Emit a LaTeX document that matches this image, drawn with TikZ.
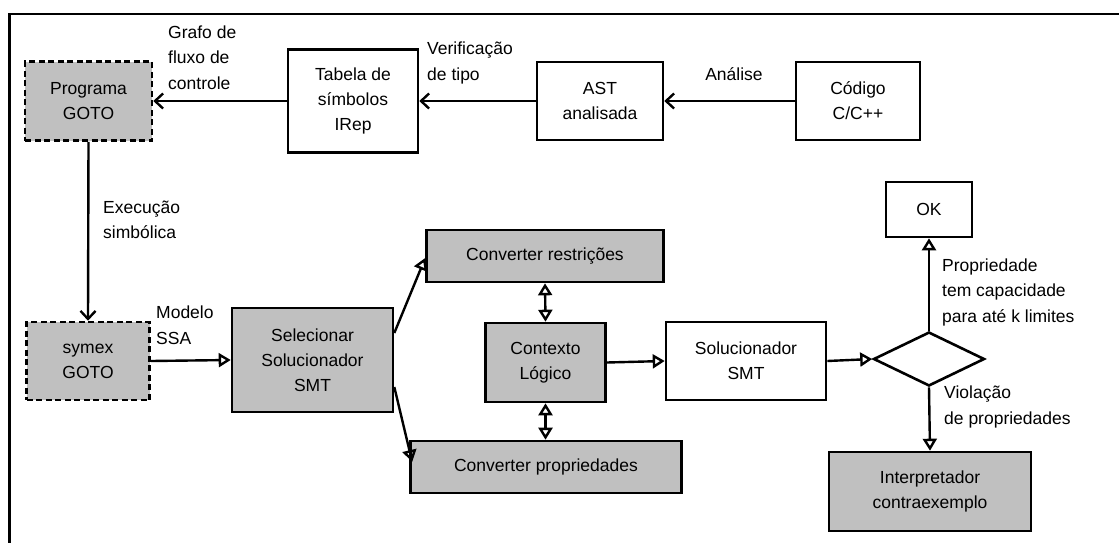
\documentclass[tikz,border=0pt]{standalone}
\usepackage{fontspec}
\setmainfont{Liberation Sans}
\usetikzlibrary{arrows.meta,shapes.geometric,calc}
\definecolor{boxgray}{HTML}{C0C0C0}
\tikzset{
  base/.style={draw=black, line width=2.6pt, inner sep=0pt, align=center, font=\fontsize{17.5}{25}\selectfont},
  wbox/.style={base, fill=white},
  gbox/.style={base, fill=boxgray},
  dbox/.style={gbox, dash pattern=on 6pt off 3.5pt},
  lbl/.style={inner sep=0pt, align=left, anchor=west, font=\fontsize{17.5}{25.5}\selectfont},
  barb/.style={line width=2.4pt, -{Straight Barb[length=8pt,width=15pt]}},
  tri/.style={line width=2.4pt, -{Triangle[open,length=12pt,width=14pt]}},
  dtri/.style={line width=2.4pt, {Triangle[open,length=12pt,width=14pt]}-{Triangle[open,length=12pt,width=14pt]}},
}
\begin{document}
\begin{tikzpicture}[x=1pt,y=-1pt]
\useasboundingbox (0,0) rectangle (1119,542);
\clip (0,0) rectangle (1119,542);
\fill[white] (0,0) rectangle (1119,542);
\draw[line width=2.6pt] (9.6,14) rectangle (1140,560);

% boxes
\node[dbox, minimum width=127pt, minimum height=79pt] (prog) at (88.5,101) {Programa\\GOTO};
\node[wbox, minimum width=130pt, minimum height=103pt] (tab) at (353,101) {Tabela de\\símbolos\\IRep};
\node[wbox, minimum width=126pt, minimum height=78pt] (ast) at (600,101) {AST\\analisada};
\node[wbox, minimum width=124pt, minimum height=78pt] (cod) at (858,101) {Código\\C/C++};
\node[wbox, minimum width=86pt, minimum height=55pt] (ok) at (929,209.5) {OK};
\node[gbox, minimum width=237pt, minimum height=52pt] (cr) at (545,256) {Converter restrições};
\node[dbox, minimum width=123pt, minimum height=78pt] (symex) at (88,361) {symex\\GOTO};
\node[gbox, minimum width=161pt, minimum height=104pt] (sel) at (312.5,360) {Selecionar\\Solucionador\\SMT};
\node[gbox, minimum width=120pt, minimum height=79pt] (ctx) at (545.5,362.5) {Contexto\\Lógico};
\node[wbox, minimum width=160pt, minimum height=78pt] (sol) at (746,361) {Solucionador\\SMT};
\node[draw=black, line width=2.6pt, diamond, inner sep=0pt, minimum width=111pt, minimum height=54pt] (dia) at (929,359) {};
\node[gbox, minimum width=271pt, minimum height=52pt] (cp) at (546,467) {Converter propriedades};
\node[gbox, minimum width=202pt, minimum height=79pt] (interp) at (930,491.5) {Interpretador\\contraexemplo};

% labels
\node[lbl] (l1) at (168,57.5) {Grafo de\\fluxo de\\controle};
\node[lbl] (l2) at (427,63) {Verificação\\de tipo};
\node[lbl, anchor=center] (l3) at (734,74) {Análise};
\node[lbl] (l4) at (103,220) {Execução\\simbólica};
\node[lbl] (l5) at (156,325) {Modelo\\SSA};
\node[lbl] (l6) at (942,292) {Propriedade\\tem capacidade\\para até k limites};
\node[lbl] (l7) at (944,407) {Violação\\de propriedades};

% connectors
\draw[barb] (cod.west) -- (ast.east);
\draw[barb] (ast.west) -- (tab.east);
\draw[barb] (tab.west) -- (prog.east);
\draw[barb] (prog.south) -- (symex.north);
\draw[tri] (symex.east) -- (sel.west);
\draw[tri] ([yshift=27pt]sel.east) -- ([yshift=-2pt]cr.west);
\draw[tri] ([yshift=-27pt]sel.east) -- ([xshift=3pt,yshift=5pt]cp.west);
\draw[dtri] (cr.south) -- (ctx.north);
\draw[dtri] (ctx.south) -- (cp.north -| ctx.south);
\draw[tri] (ctx.east) -- (sol.west);
\draw[tri] (sol.east) -- (dia.west);
\draw[tri] (dia.north) -- (ok.south);
\draw[tri] (dia.south) -- (interp.north);
\end{tikzpicture}
\end{document}
